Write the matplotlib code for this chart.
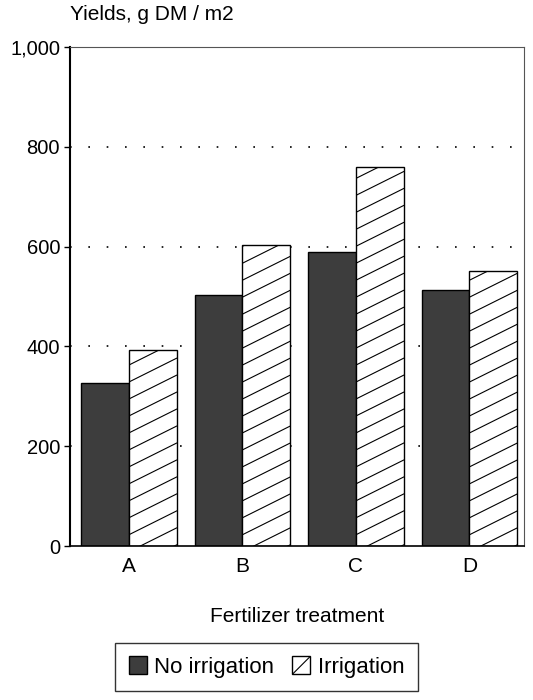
import matplotlib
matplotlib.use("Agg")
import matplotlib.pyplot as plt
import numpy as np
from matplotlib.patches import Patch

categories = ["A", "B", "C", "D"]
no_irrigation = [327, 502, 590, 513]
irrigation = [392, 603, 760, 550]
yticks = [0, 200, 400, 600, 800, 1000]
ytick_labels = ["0", "200", "400", "600", "800", "1,000"]

plt.rcParams["font.family"] = ["Liberation Sans", "DejaVu Sans"]
plt.rcParams["hatch.linewidth"] = 0.8

fig = plt.figure(figsize=(5.33, 7.0), dpi=100)
ax = fig.add_axes([0.131, 0.22, 0.852, 0.713])

x = np.arange(len(categories))
w = 0.42
dark = "#3d3d3d"

# dotted grid
for yv in yticks[1:-1]:
    ax.axhline(yv, color="black", lw=1.2, linestyle=(0, (1, 10)), zorder=0)

b1 = ax.bar(x - w / 2, no_irrigation, width=w, color=dark, edgecolor="black", lw=1.0, zorder=2)
b2 = ax.bar(x + w / 2, irrigation, width=w, color="white", edgecolor="black", lw=1.0, zorder=2)

ax.set_xlim(-0.52, 3.48)
ax.set_ylim(0, 1000)

# custom shallow diagonal hatch, clipped to each irrigation bar
slope = 113.5  # data-y per data-x (approx 0.5 px/px)
spacing = 34
for rect in b2.patches:
    x0 = rect.get_x()
    x1 = x0 + rect.get_width()
    h = rect.get_height()
    for c in np.arange(-slope * 1.0, h + spacing, spacing):
        xs = np.array([x0, x1])
        ys = c + slope * (xs - x0)
        ln, = ax.plot(xs, ys, color="black", lw=0.8, zorder=3)
        ln.set_clip_path(rect)

ax.set_yticks(yticks)
ax.set_yticklabels(ytick_labels, fontsize=14.5)
ax.set_xticks(x)
ax.set_xticklabels(categories, fontsize=15)
ax.tick_params(axis="x", length=0, pad=8)
ax.tick_params(axis="y", length=4, width=1, direction="out", pad=3)

ax.spines["left"].set_linewidth(1.5)
ax.spines["bottom"].set_linewidth(1.2)
ax.spines["top"].set_linewidth(0.8)
ax.spines["top"].set_color("#555555")
ax.spines["right"].set_linewidth(0.8)
ax.spines["right"].set_color("#555555")

ax.set_xlabel("Fertilizer treatment", fontsize=15, labelpad=22)
ax.text(0.0, 1.045, "Yields, g DM / m2", transform=ax.transAxes, fontsize=15,
        ha="left", va="bottom")

handles = [Patch(facecolor=dark, edgecolor="black", label="No irrigation"),
           Patch(facecolor="white", edgecolor="black", hatch="/", label="Irrigation")]
leg = fig.legend(handles=handles, loc="center", bbox_to_anchor=(0.5, 0.047), ncol=2,
                 fontsize=16, frameon=True, fancybox=False, edgecolor="black",
                 handlelength=0.8, handleheight=0.85, handletextpad=0.35,
                 columnspacing=0.8, borderpad=0.6, borderaxespad=0)
leg.get_frame().set_linewidth(1.0)

fig.savefig("out.png", dpi=100)
